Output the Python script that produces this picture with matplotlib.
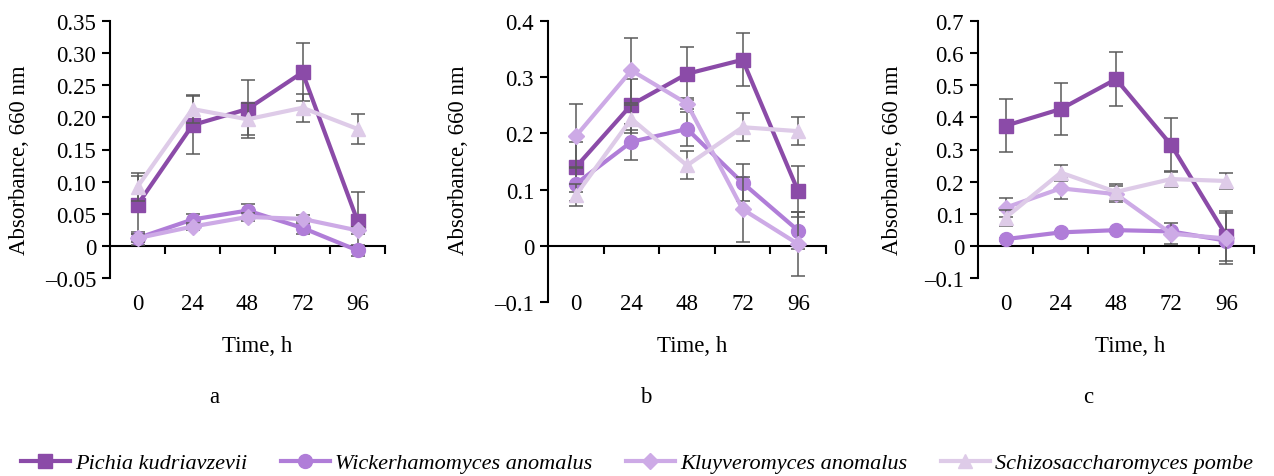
import numpy as np
import matplotlib
matplotlib.use('Agg')
import matplotlib.pyplot as plt
from matplotlib.transforms import blended_transform_factory
from matplotlib.lines import Line2D

plt.rcParams['font.family'] = ['Liberation Serif', 'DejaVu Serif']

# datos
tiempos = ['0', '24', '48', '72', '96']
especies = ['Pichia kudriavzevii', 'Wickerhamomyces anomalus',
            'Kluyveromyces anomalus', 'Schizosaccharomyces pombe']

# panel a
a_pichia = [0.064, 0.188, 0.213, 0.270, 0.039]
a_wicker = [0.012, 0.041, 0.055, 0.028, -0.007]
a_kluyv = [0.012, 0.030, 0.045, 0.042, 0.024]
a_schizo = [0.092, 0.213, 0.197, 0.215, 0.182]
a_pichia_err = [0.045, 0.045, 0.045, 0.045, 0.045]
a_wicker_err = [0.010, 0.008, 0.010, 0.010, 0.008]
a_kluyv_err = [0.006, 0.006, 0.006, 0.006, 0.006]
a_schizo_err = [0.022, 0.022, 0.025, 0.022, 0.023]

# panel b
b_pichia = [0.140, 0.251, 0.306, 0.331, 0.097]
b_wicker = [0.110, 0.185, 0.208, 0.112, 0.027]
b_kluyv = [0.195, 0.312, 0.253, 0.065, 0.003]
b_schizo = [0.090, 0.226, 0.143, 0.211, 0.204]
b_pichia_err = [0.045, 0.045, 0.047, 0.047, 0.045]
b_wicker_err = [0.030, 0.032, 0.030, 0.033, 0.033]
b_kluyv_err = [0.057, 0.058, 0.010, 0.058, 0.057]
b_schizo_err = [0.020, 0.025, 0.025, 0.025, 0.025]

# panel c
c_pichia = [0.374, 0.426, 0.519, 0.314, 0.031]
c_wicker = [0.021, 0.042, 0.049, 0.045, 0.016]
c_kluyv = [0.119, 0.179, 0.161, 0.038, 0.023]
c_schizo = [0.088, 0.228, 0.168, 0.208, 0.202]
c_pichia_err = [0.083, 0.080, 0.083, 0.083, 0.078]
c_wicker_err = [0.005, 0.005, 0.005, 0.005, 0.005]
c_kluyv_err = [0.030, 0.032, 0.025, 0.032, 0.080]
c_schizo_err = [0.025, 0.025, 0.025, 0.025, 0.025]

a_yticks = [-0.05, 0, 0.05, 0.10, 0.15, 0.20, 0.25, 0.30, 0.35]
a_ylabels = ['\u20130.05', '0', '0.05', '0.10', '0.15', '0.20', '0.25', '0.30', '0.35']
b_yticks = [-0.1, 0, 0.1, 0.2, 0.3, 0.4]
b_ylabels = ['\u20130.1', '0', '0.1', '0.2', '0.3', '0.4']
c_yticks = [-0.1, 0, 0.1, 0.2, 0.3, 0.4, 0.5, 0.6, 0.7]
c_ylabels = ['\u20130.1', '0', '0.1', '0.2', '0.3', '0.4', '0.5', '0.6', '0.7']

colores = ['#8B4BA8', '#B07DD8', '#CDAAE6', '#DECBE8']
marcadores = ['s', 'o', 'D', '^']
tam_marc = [10, 10, 8, 10]

W, H = 1274, 477
fig = plt.figure(figsize=(W / 100, H / 100), dpi=100)

paneles = [
    dict(box=(110, 385, 22, 279), series=[a_pichia, a_wicker, a_kluyv, a_schizo],
         errs=[a_pichia_err, a_wicker_err, a_kluyv_err, a_schizo_err],
         yt=a_yticks, yl=a_ylabels, ylab_x=20, tit_x=257, letra='a', letra_x=214),
    dict(box=(548, 826, 22, 303), series=[b_pichia, b_wicker, b_kluyv, b_schizo],
         errs=[b_pichia_err, b_wicker_err, b_kluyv_err, b_schizo_err],
         yt=b_yticks, yl=b_ylabels, ylab_x=458, tit_x=692, letra='b', letra_x=646),
    dict(box=(978, 1254, 22, 279), series=[c_pichia, c_wicker, c_kluyv, c_schizo],
         errs=[c_pichia_err, c_wicker_err, c_kluyv_err, c_schizo_err],
         yt=c_yticks, yl=c_ylabels, ylab_x=892, tit_x=1130, letra='c', letra_x=1088),
]

x = np.arange(len(tiempos))
fs = 16.5

for p in paneles:
    l, r, t, b = p['box']
    ax = fig.add_axes([l / W, 1 - b / H, (r - l) / W, (b - t) / H])
    for i, (ys, es) in enumerate(zip(p['series'], p['errs'])):
        ax.errorbar(x, ys, yerr=es, fmt='none', ecolor='#5A5A5A', elinewidth=1.1,
                    capsize=5, capthick=1.1, zorder=2 + 2 * i)
        ax.plot(x, ys, color=colores[i], marker=marcadores[i], ms=tam_marc[i],
                lw=3, zorder=3 + 2 * i)
    ax.set_xlim(-0.5, len(tiempos) - 0.5)
    ax.set_ylim(p['yt'][0], p['yt'][-1])
    ax.set_yticks(p['yt'])
    ax.set_yticklabels(p['yl'], fontsize=fs)
    ax.spines['top'].set_visible(False)
    ax.spines['right'].set_visible(False)
    ax.spines['bottom'].set_position(('data', 0))
    ax.spines['left'].set_linewidth(1.5)
    ax.spines['bottom'].set_linewidth(1.5)
    ax.set_xticks(x + 0.5)
    ax.tick_params(axis='x', labelbottom=False, direction='out', length=6, width=1.5)
    ax.tick_params(axis='y', direction='out', length=6, width=1.5, pad=4)
    trans = blended_transform_factory(ax.transData, fig.transFigure)
    for xi, lab in zip(x, tiempos):
        ax.text(xi, 1 - 304 / H, lab, transform=trans, ha='center', va='center',
                fontsize=fs)
    fig.text(p['ylab_x'] / W, 1 - 160 / H, 'Absorbance, 660 nm', rotation=90,
             ha='center', va='center', fontsize=fs)
    fig.text(p['tit_x'] / W, 1 - 347 / H, 'Time, h', ha='center', va='center', fontsize=fs)
    fig.text(p['letra_x'] / W, 1 - 398 / H, p['letra'], ha='center', va='center', fontsize=fs)

manijas = [Line2D([0], [0], color=colores[i], marker=marcadores[i], ms=tam_marc[i], lw=3)
           for i in range(4)]
fig.legend(manijas, especies, loc='center', bbox_to_anchor=(0.5, 1 - 464 / H), ncol=4,
           frameon=False, prop={'family': 'Liberation Serif', 'style': 'italic', 'size': 16},
           handlelength=2.2, columnspacing=1.5, handletextpad=0.25, borderpad=0)

fig.savefig('out.png', dpi=100)
